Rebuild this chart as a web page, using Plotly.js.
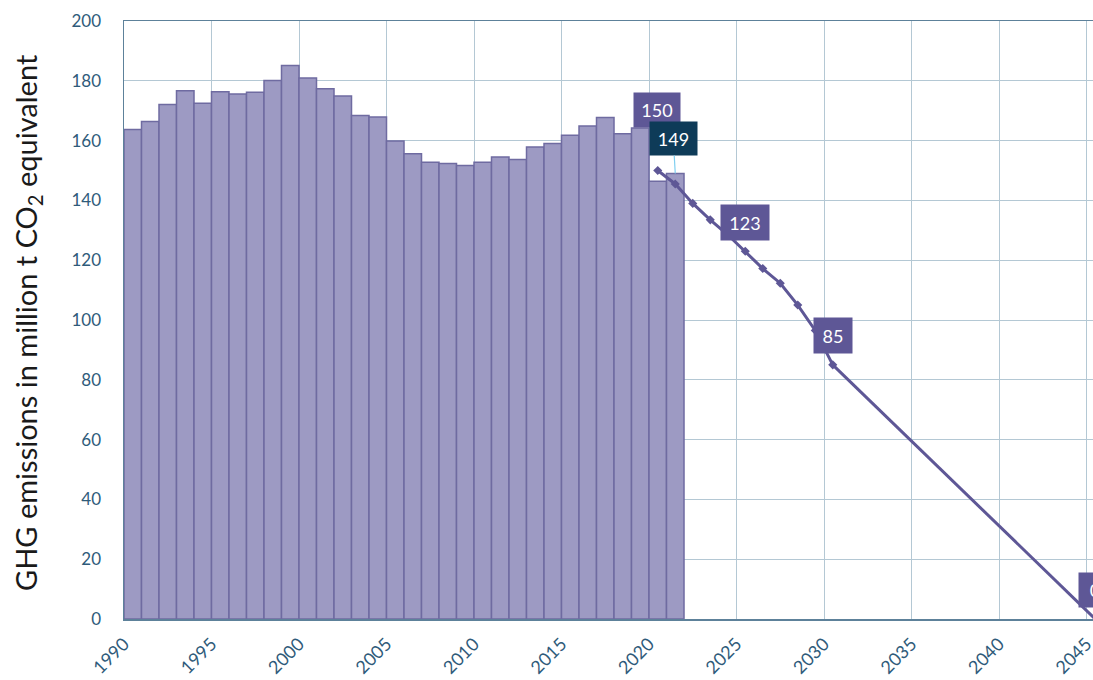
<!DOCTYPE html>
<html>
<head>
<meta charset="utf-8">
<script src="https://cdn.plot.ly/plotly-3.0.1.min.js"></script>
<style>
html,body{margin:0;padding:0;background:#fff;overflow:hidden;}
#chart{width:1093px;height:680px;}
</style>
</head>
<body>
<div id="chart"></div>
<script>
// Historic emissions (million t CO2 eq.)
const years = [1990,1991,1992,1993,1994,1995,1996,1997,1998,1999,2000,2001,2002,2003,2004,2005,2006,2007,2008,2009,2010,2011,2012,2013,2014,2015,2016,2017,2018,2019,2020,2021];
const emissions = [163.7,166.4,172.1,176.7,172.5,176.3,175.6,176.2,180.1,185.1,180.9,177.3,174.9,168.4,167.9,159.9,155.6,152.8,152.3,151.7,152.8,154.5,153.7,157.9,159.0,161.8,164.9,167.7,162.3,164.2,146.4,149.0];

// Reduction path (targets)
const pathYears = [2020,2021,2022,2023,2024,2025,2026,2027,2028,2029,2030];
const pathValues = [150,145.5,139,133.5,128.5,123,117.2,112.3,105,96.5,85];
const pathEndYears = [2030,2045];
const pathEndValues = [85,0];

// Labels
const labelYears = [2020,2021,2025,2030,2045];
const labelValues = [150,149,123,85,0];
const labelTexts = ['150','149','123','85','0'];

const xTicks = [1990,1995,2000,2005,2010,2015,2020,2025,2030,2035,2040,2045];
const yTicks = [0,20,40,60,80,100,120,140,160,180,200];

const X_MAX = 2045.37;
const PX_PER_YEAR = 969 / (X_MAX - 1990);
const mid = y => y + 0.5;
const purple = '#5e5796';
const navy = '#0e3b58';
const tickColor = '#2f5b7a';
const font = 'Lato, "Open Sans", sans-serif';

const traces = [
  {
    type: 'bar',
    x: years.map(mid),
    y: emissions,
    width: 1,
    marker: {color: '#9d9ac3', line: {color: '#6f6ba1', width: 1.5}},
    hoverinfo: 'x+y'
  },
  {
    type: 'scatter',
    mode: 'lines',
    x: pathEndYears.map(mid),
    y: pathEndValues,
    line: {color: purple, width: 3},
    cliponaxis: true
  },
  {
    type: 'scatter',
    mode: 'lines+markers',
    x: pathYears.map(mid),
    y: pathValues,
    line: {color: purple, width: 3},
    marker: {symbol: 'diamond', size: 7, color: purple}
  }
];

const boxDims = [[44,32],[45,31],[46,33],[36,33],[30,32]];
const boxColors = [purple, navy, purple, purple, purple];
const annotations = labelYears.map((yr, i) => {
  let xv = mid(yr), xs = 0;
  if (xv > X_MAX) { xs = (xv - X_MAX) * PX_PER_YEAR; xv = X_MAX; }
  const a = {
    x: xv, y: labelValues[i], xref: 'x', yref: 'y',
    text: labelTexts[i],
    font: {family: font, size: 18, color: '#ffffff'},
    bgcolor: boxColors[i],
    width: boxDims[i][0], height: boxDims[i][1],
    showarrow: false,
    xshift: xs,
    yshift: 29
  };
  if (i === 0) { a.yshift = 61; a.xshift = -1; }
  if (i === 1) {
    a.showarrow = true; a.arrowhead = 0; a.arrowwidth = 1.2; a.arrowcolor = '#7fcff0';
    a.ax = -2; a.ay = -35; a.yshift = 0;
  }
  return a;
});

annotations.push({
  xref: 'paper', yref: 'paper',
  x: (28 - 124) / 969, y: 0.495,
  text: 'GHG emissions in million t CO<sub>2</sub> equivalent',
  textangle: -90,
  showarrow: false,
  font: {family: font, size: 29, color: '#1a1a1a'},
  xanchor: 'center', yanchor: 'middle'
});

const layout = {
  width: 1093, height: 680,
  margin: {l: 124, r: 0, t: 21, b: 61},
  paper_bgcolor: '#ffffff', plot_bgcolor: '#ffffff',
  showlegend: false,
  bargap: 0,
  xaxis: {
    range: [1990, X_MAX],
    tickvals: xTicks,
    ticktext: xTicks.map(String),
    tickangle: -45,
    tickfont: {family: font, size: 18, color: tickColor},
    ticklabelstandoff: 6,
    ticklabeloverflow: 'allow',
    showgrid: true, gridcolor: '#b4c8d4', gridwidth: 1,
    showline: true, linecolor: '#5d819a', linewidth: 1.5, mirror: true,
    zeroline: false, ticks: '', fixedrange: true
  },
  yaxis: {
    range: [0, 200],
    tickvals: yTicks,
    tickfont: {family: font, size: 17, color: tickColor},
    ticklabelstandoff: 18,
    showgrid: true, gridcolor: '#b4c8d4', gridwidth: 1,
    showline: true, linecolor: '#5d819a', linewidth: 1.5, mirror: true,
    zeroline: false, ticks: '', fixedrange: true
  },
  annotations: annotations
};

Plotly.newPlot('chart', traces, layout, {displayModeBar: false, staticPlot: true});
</script>
</body>
</html>
